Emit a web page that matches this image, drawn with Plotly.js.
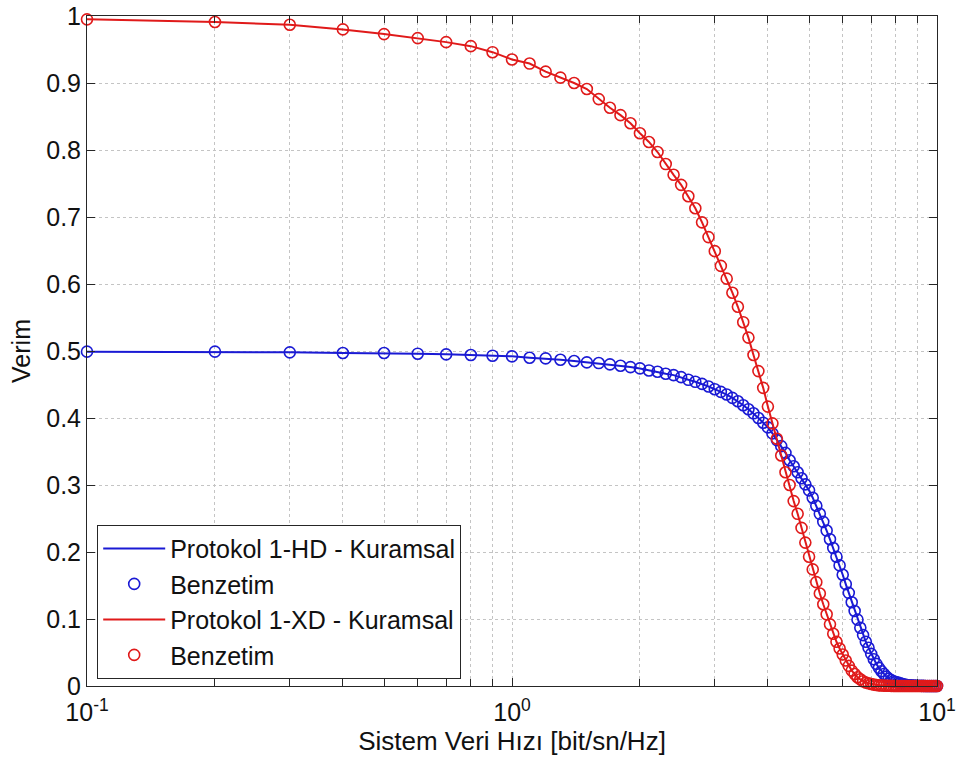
<!DOCTYPE html>
<html>
<head>
<meta charset="utf-8">
<script src="https://cdn.plot.ly/plotly-3.0.1.min.js"></script>
<style>
html,body{margin:0;padding:0;background:#fff;}
#chart{width:964px;height:767px;}
</style>
</head>
<body>
<div id="chart"></div>
<script>
// System data rate [bit/sn/Hz]
const rate = [0.1,0.2,0.3,0.4,0.5,0.6,0.7,0.8,0.9,1.0,
  1.1,1.2,1.3,1.4,1.5,1.6,1.7,1.8,1.9,2.0,
  2.1,2.2,2.3,2.4,2.5,2.6,2.7,2.8,2.9,3.0,
  3.1,3.2,3.3,3.4,3.5,3.6,3.7,3.8,3.9,4.0,
  4.1,4.2,4.3,4.4,4.5,4.6,4.7,4.8,4.9,5.0,
  5.1,5.2,5.3,5.4,5.5,5.6,5.7,5.8,5.9,6.0,
  6.1,6.2,6.3,6.4,6.5,6.6,6.7,6.8,6.9,7.0,
  7.1,7.2,7.3,7.4,7.5,7.6,7.7,7.8,7.9,8.0,
  8.1,8.2,8.3,8.4,8.5,8.6,8.7,8.8,8.9,9.0,
  9.1,9.2,9.3,9.4,9.5,9.6,9.7,9.8,9.9,10.0];

// Protokol 1-HD efficiency
const hdEff = [0.499,0.499,0.498,0.497,0.497,0.496,0.495,0.494,0.493,0.492,
  0.490,0.489,0.487,0.485,0.483,0.482,0.480,0.478,0.476,0.474,
  0.471,0.469,0.466,0.464,0.461,0.457,0.454,0.451,0.447,0.443,
  0.439,0.435,0.430,0.425,0.419,0.413,0.407,0.400,0.393,0.386,
  0.377,0.367,0.358,0.348,0.337,0.328,0.319,0.310,0.301,0.292,
  0.281,0.269,0.257,0.245,0.232,0.219,0.206,0.193,0.180,0.166,
  0.152,0.139,0.125,0.112,0.099,0.087,0.076,0.066,0.057,0.048,
  0.040,0.033,0.027,0.022,0.018,0.014,0.011,0.009,0.007,0.006,
  0.005,0.004,0.003,0.002,0.0015,0.001,0.001,0.0007,0.0005,0.0004,
  0.0003,0.0002,0.0002,0.0001,0.0001,0.0001,0,0,0,0];

// Protokol 1-XD efficiency
const xdEff = [0.995,0.991,0.987,0.980,0.973,0.967,0.961,0.955,0.946,0.935,
  0.929,0.917,0.908,0.900,0.891,0.876,0.863,0.852,0.840,0.825,
  0.812,0.797,0.779,0.763,0.748,0.731,0.713,0.692,0.670,0.649,
  0.627,0.608,0.587,0.566,0.543,0.520,0.494,0.470,0.445,0.417,
  0.392,0.369,0.344,0.319,0.300,0.276,0.257,0.236,0.214,0.193,
  0.174,0.155,0.138,0.122,0.107,0.092,0.078,0.066,0.056,0.047,
  0.038,0.030,0.023,0.018,0.013,0.010,0.007,0.005,0.004,0.003,
  0.002,0.0015,0.001,0.0008,0.0005,0.0004,0.0003,0.0002,0.0001,0,
  0,0,0,0,0,0,0,0,0,0,
  0,0,0,0,0,0,0,0,0,0];

const xMajorVals = [0.1, 1, 10];
const xMajorText = ['10<sup>-1</sup>','10<sup>0</sup>','10<sup>1</sup>'];
const xMinorVals = [0.2,0.3,0.4,0.5,0.6,0.7,0.8,0.9,2,3,4,5,6,7,8,9];
const yTickVals = [0,0.1,0.2,0.3,0.4,0.5,0.6,0.7,0.8,0.9,1];
const yTickText = ['0','0.1','0.2','0.3','0.4','0.5','0.6','0.7','0.8','0.9','1'];

const seriesNames = ['Protokol 1-HD - Kuramsal','Benzetim','Protokol 1-XD - Kuramsal','Benzetim'];
const BLUE = '#1a1ad4', RED = '#e01a1a';

const traces = [
  {x: rate, y: hdEff, name: seriesNames[0], mode: 'lines', line: {color: BLUE, width: 2}},
  {x: rate, y: hdEff, name: seriesNames[1], mode: 'markers', cliponaxis: false,
   marker: {symbol: 'circle-open', size: 11, color: BLUE, line: {width: 1.6, color: BLUE}}},
  {x: rate, y: xdEff, name: seriesNames[2], mode: 'lines', line: {color: RED, width: 2}},
  {x: rate, y: xdEff, name: seriesNames[3], mode: 'markers', cliponaxis: false,
   marker: {symbol: 'circle-open', size: 11, color: RED, line: {width: 1.6, color: RED}}}
];

const FONT = 'Liberation Sans, Arial, sans-serif';
const GRID = '#c4c4c4';
const axisCommon = {
  showline: true, linecolor: '#262626', linewidth: 1, mirror: 'allticks',
  ticks: 'inside', ticklen: 8, tickcolor: '#262626', tickwidth: 1,
  showgrid: true, gridcolor: GRID, griddash: 'dot', gridwidth: 1,
  zeroline: false, tickfont: {family: FONT, size: 25, color: '#111'}
};

const layout = {
  width: 964, height: 767,
  margin: {l: 87, r: 27, t: 16, b: 81},
  paper_bgcolor: '#fff', plot_bgcolor: '#fff',
  font: {family: FONT, color: '#111'},
  xaxis: Object.assign({}, axisCommon, {
    type: 'log', range: [-1, 1], tickmode: 'array', tickvals: xMajorVals, ticktext: xMajorText,
    ticklabelstandoff: 4,
    minor: {tickmode: 'array', tickvals: xMinorVals, ticks: 'inside', ticklen: 7,
            tickcolor: '#262626', showgrid: true, gridcolor: GRID, griddash: 'dot', gridwidth: 1},
    title: {text: 'Sistem Veri Hızı [bit/sn/Hz]', font: {family: FONT, size: 26, color: '#111'}, standoff: 6}
  }),
  yaxis: Object.assign({}, axisCommon, {
    range: [0, 1], tickmode: 'array', tickvals: yTickVals, ticktext: yTickText,
    title: {text: 'Verim', font: {family: FONT, size: 25, color: '#111'}, standoff: 8}
  }),
  legend: {
    x: 0.012, y: 0.011, xanchor: 'left', yanchor: 'bottom',
    bgcolor: '#fff', bordercolor: '#262626', borderwidth: 1,
    font: {family: FONT, size: 25, color: '#111'},
    itemwidth: 62,
    tracegroupgap: 0
  },
  showlegend: true
};

Plotly.newPlot('chart', traces, layout, {displayModeBar: false, staticPlot: true});
</script>
</body>
</html>
